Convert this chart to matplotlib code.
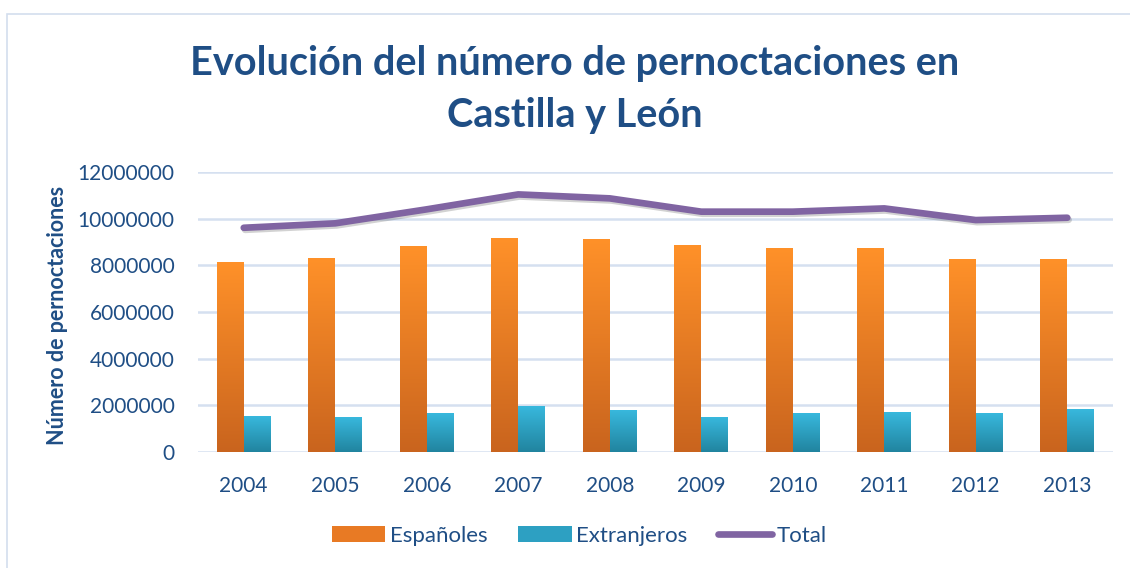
import matplotlib
matplotlib.use("Agg")
import matplotlib.pyplot as plt
import numpy as np
from matplotlib.colors import LinearSegmentedColormap
from matplotlib.patches import Rectangle, Patch
from matplotlib.lines import Line2D
import matplotlib.patheffects as pe

plt.rcParams['font.family'] = ['Lato', 'DejaVu Sans']

years = ['2004', '2005', '2006', '2007', '2008', '2009', '2010', '2011', '2012', '2013']
espanoles = [8140000, 8310000, 8790000, 9170000, 9090000, 8830000, 8700000, 8740000, 8270000, 8230000]
extranjeros = [1540000, 1500000, 1630000, 1930000, 1760000, 1500000, 1630000, 1710000, 1670000, 1840000]
total = [9610000, 9800000, 10400000, 11040000, 10870000, 10300000, 10300000, 10440000, 9940000, 10040000]
yticks = [0, 2000000, 4000000, 6000000, 8000000, 10000000, 12000000]

TXT = '#1F4E85'
W, H = 1130, 568
fig = plt.figure(figsize=(W / 100, H / 100), dpi=100)
fig.patch.set_facecolor('white')

# chart border
fig.add_artist(Rectangle((7 / W, -0.05), 1.2, 1 - 14 / H + 0.05, transform=fig.transFigure,
                         fill=False, edgecolor='#D3DEEE', linewidth=1.2))

ax = fig.add_axes([198 / W, 1 - 452 / H, (1113 - 198) / W, (452 - 172) / H])
x = np.arange(len(years))
bw = 0.295

orange_cmap = LinearSegmentedColormap.from_list('o', ['#C9641E', '#FF9129'])
blue_cmap = LinearSegmentedColormap.from_list('b', ['#21849F', '#38B8DD'])
grad = np.linspace(0, 1, 256).reshape(-1, 1)

bars_o = ax.bar(x - bw / 2, espanoles, width=bw, color='none', zorder=3)
bars_b = ax.bar(x + bw / 2, extranjeros, width=bw, color='none', zorder=3)
for bars, cmap in ((bars_o, orange_cmap), (bars_b, blue_cmap)):
    for b in bars:
        x0, w, h = b.get_x(), b.get_width(), b.get_height()
        ax.imshow(grad, extent=[x0, x0 + w, 0, h], origin='lower', aspect='auto',
                  cmap=cmap, zorder=3)

ax.plot(x, total, color='#8064A2', linewidth=4.8, solid_capstyle='round', zorder=4,
        path_effects=[pe.SimpleLineShadow(offset=(1, -1.5), shadow_color='#333333', alpha=0.22),
                      pe.Normal()])

ax.set_xlim(-0.5, len(years) - 0.5)
ax.set_ylim(0, 12000000)
ax.set_yticks(yticks)
ax.set_yticklabels([str(v) for v in yticks])
ax.set_xticks(x)
ax.set_xticklabels(years)
ax.tick_params(axis='both', length=0, labelsize=15, labelcolor=TXT)
ax.tick_params(axis='y', pad=17)
ax.tick_params(axis='x', pad=17)
ax.grid(axis='y', color='#D5E0F0', linewidth=1.8, zorder=0)
ax.set_axisbelow(True)
for s in ax.spines.values():
    s.set_visible(False)

fig.text(58 / W, 1 - 315 / H, 'Número de pernoctaciones', rotation=90, ha='center', va='center',
         fontsize=15.5, fontweight='bold', color=TXT)

fig.text(575 / W, 1 - 64 / H, 'Evolución del número de pernoctaciones en',
         ha='center', va='center', fontsize=28.5, fontweight='bold', color=TXT)
fig.text(575 / W, 1 - 116 / H, 'Castilla y León',
         ha='center', va='center', fontsize=28.5, fontweight='bold', color=TXT)

handles = [Patch(facecolor='#E87A24', edgecolor='none'),
           Patch(facecolor='#2DA0C2', edgecolor='none'),
           Line2D([0], [0], color='#8064A2', linewidth=4.8, solid_capstyle='round')]
leg = fig.legend(handles, ['Españoles', 'Extranjeros', 'Total'], loc='center',
                 bbox_to_anchor=(579 / W, 1 - 536 / H), ncol=3, frameon=False,
                 fontsize=16, handlelength=2.4, handleheight=0.75, handletextpad=0.2,
                 columnspacing=1.4)
for t in leg.get_texts():
    t.set_color(TXT)

fig.savefig('out.png', dpi=100, facecolor='white')
